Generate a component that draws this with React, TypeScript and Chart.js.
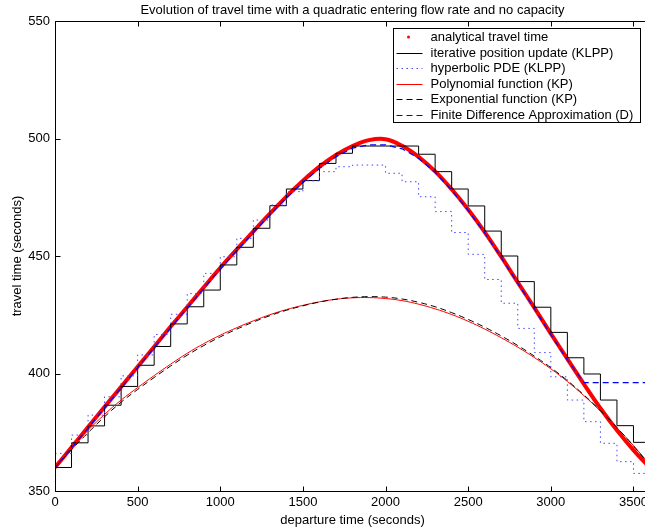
import React, { useEffect, useRef } from "react";
import { Chart, registerables } from "chart.js";

Chart.register(...registerables);

const FONT = '"Liberation Sans", Arial, Helvetica, sans-serif';
const TITLE = "Evolution of travel time with a quadratic entering flow rate and no capacity";
const X_TITLE = "departure time (seconds)";
const Y_TITLE = "travel time (seconds)";

const X_MIN = 0;
const X_MAX = 3600;
const Y_MIN = 350;
const Y_MAX = 550;
const X_TICKS = [0, 500, 1000, 1500, 2000, 2500, 3000, 3500];
const Y_TICKS = [350, 400, 450, 500, 550];

const LEGEND_LABELS = [
  "analytical travel time",
  "iterative position update (KLPP)",
  "hyperbolic PDE (KLPP)",
  "Polynomial function (KP)",
  "Exponential function (KP)",
  "Finite Difference Approximation (D)",
];

const departureTimes = [
  0, 100, 200, 300, 400, 500, 600, 700, 800, 900, 1000, 1100, 1200, 1300, 1400, 1500, 1600, 1700, 1800,
  1900, 2000, 2100, 2200, 2300, 2400, 2500, 2600, 2700, 2800, 2900, 3000, 3100, 3200, 3300, 3400, 3500, 3600,
];

const analytical = [
  360.0, 368.6, 377.2, 385.8, 394.3, 402.9, 411.4, 420.0, 428.3, 436.7, 445.0, 452.8, 460.5, 468.0, 475.3,
  482.0, 488.0, 493.0, 496.8, 499.3, 499.7, 496.9, 492.2, 486.0, 478.4, 469.8, 460.2, 449.7, 438.8, 428.0,
  417.0, 406.2, 395.5, 385.2, 375.8, 367.4, 359.8,
];

const iterativeSteps = [
  360.0, 370.5, 377.7, 386.5, 394.5, 403.5, 411.5, 421.1, 428.4, 435.5, 446.2, 453.7, 461.8, 471.4, 478.5,
  482.1, 489.4, 493.7, 496.8, 496.8, 496.8, 496.8, 493.3, 485.9, 478.5, 471.3, 460.6, 450.0, 439.1, 428.2,
  417.5, 406.7, 399.8, 388.7, 377.8, 370.7, 370.7,
];

const hyperbolicSteps = [
  366.0, 373.8, 382.3, 390.1, 399.0, 407.9, 416.6, 425.2, 434.0, 442.6, 449.7, 457.5, 465.3, 471.7, 477.4,
  482.0, 485.9, 488.0, 488.7, 488.7, 485.2, 481.6, 475.2, 468.9, 460.0, 450.7, 440.0, 429.9, 419.2, 408.9,
  398.6, 388.7, 379.5, 370.3, 362.5, 357.5, 357.5,
];

const polynomialKP = [
  360.0, 368.2, 375.8, 382.6, 388.7, 394.0, 399.1, 404.0, 408.6, 412.7, 416.3, 419.5, 422.4, 425.0, 427.2,
  429.0, 430.5, 431.6, 432.2, 432.3, 431.9, 431.0, 429.5, 427.5, 425.1, 422.2, 418.9, 415.2, 411.2, 406.8,
  402.0, 396.6, 390.6, 384.0, 376.9, 369.3, 361.2,
];

const exponentialKP = [
  360.0, 367.6, 374.8, 381.6, 387.8, 393.2, 398.3, 403.2, 407.8, 411.9, 415.6, 418.9, 421.9, 424.6, 426.9,
  428.8, 430.4, 431.6, 432.4, 432.7, 432.5, 431.7, 430.3, 428.4, 425.9, 423.0, 419.7, 416.0, 411.9, 407.4,
  402.5, 397.0, 390.9, 384.2, 377.0, 369.2, 360.8,
];

const fdTimes = [0, ...departureTimes];
const fdValues = [
  350.0, 360.0, 368.3, 376.8, 385.4, 393.9, 402.5, 411.0, 419.5, 427.9, 436.2, 444.5, 452.3, 460.0, 467.5,
  474.7, 481.3, 487.3, 492.2, 495.9, 497.3, 497.3, 495.6, 491.6, 485.6, 478.0, 469.4, 459.8, 449.3, 438.4,
  427.6, 416.6, 405.8, 396.1, 396.1, 396.1, 396.1, 396.1,
];

const pts = (xs: number[], ys: number[]) => xs.map((x, i) => ({ x, y: ys[i] }));

const decorPlugin = {
  id: "decor",
  afterDraw(chart: any) {
    const { ctx, chartArea: a, scales } = chart;
    const xs = scales.x;
    const ys = scales.y;
    ctx.save();
    ctx.strokeStyle = "#000";
    ctx.lineWidth = 1;
    ctx.setLineDash([]);
    const L = Math.round(a.left) + 0.5;
    const T = Math.round(a.top) + 0.5;
    const R = Math.round(a.right) + 0.5;
    const B = Math.round(a.bottom) + 0.5;
    ctx.beginPath();
    ctx.rect(L, T, R - L, B - T);
    for (const v of X_TICKS) {
      const px = Math.round(xs.getPixelForValue(v)) + 0.5;
      ctx.moveTo(px, B);
      ctx.lineTo(px, B - 5);
      ctx.moveTo(px, T);
      ctx.lineTo(px, T + 5);
    }
    for (const v of Y_TICKS) {
      const py = Math.round(ys.getPixelForValue(v)) + 0.5;
      ctx.moveTo(L, py);
      ctx.lineTo(L + 5, py);
      ctx.moveTo(R, py);
      ctx.lineTo(R - 5, py);
    }
    ctx.stroke();

    ctx.fillStyle = "#000";
    ctx.font = `13px ${FONT}`;
    ctx.textAlign = "center";
    ctx.textBaseline = "middle";
    const cx = (a.left + a.right) / 2;
    ctx.fillText(TITLE, cx, a.top - 11);
    ctx.fillText(X_TITLE, cx, a.bottom + 29);
    ctx.save();
    ctx.translate(17, (a.top + a.bottom) / 2);
    ctx.rotate(-Math.PI / 2);
    ctx.fillText(Y_TITLE, 0, 0);
    ctx.restore();

    // legend box
    const lx = Math.round(a.right - 257) + 0.5;
    const ly = Math.round(a.top + 7) + 0.5;
    const lw = 247;
    const lh = 94;
    ctx.fillStyle = "#fff";
    ctx.fillRect(lx, ly, lw, lh);
    ctx.strokeStyle = "#000";
    ctx.lineWidth = 1;
    ctx.strokeRect(lx, ly, lw, lh);
    const datasets = chart.data.datasets;
    ctx.textAlign = "left";
    for (let i = 0; i < LEGEND_LABELS.length; i++) {
      const ds = datasets[i];
      const rowY = ly + 8.5 + i * 15.5;
      if (i === 0) {
        ctx.fillStyle = ds.borderColor;
        ctx.beginPath();
        ctx.arc(lx + 15, rowY, 1.5, 0, Math.PI * 2);
        ctx.fill();
      } else {
        ctx.strokeStyle = ds.borderColor;
        ctx.lineWidth = ds.borderWidth;
        ctx.setLineDash(ds.borderDash || []);
        ctx.beginPath();
        ctx.moveTo(lx + 3, Math.round(rowY) + 0.5);
        ctx.lineTo(lx + 29, Math.round(rowY) + 0.5);
        ctx.stroke();
        ctx.setLineDash([]);
      }
      ctx.fillStyle = "#000";
      ctx.fillText(LEGEND_LABELS[i], lx + 37, rowY + 0.5);
    }
    ctx.restore();
  },
};

export default function App() {
  const canvasRef = useRef<HTMLCanvasElement | null>(null);

  useEffect(() => {
    const canvas = canvasRef.current;
    if (!canvas) return;
    const chart = new Chart(canvas, {
      type: "line",
      data: {
        datasets: [
          {
            label: LEGEND_LABELS[0],
            data: pts(departureTimes, analytical),
            borderColor: "#ff0000",
            borderWidth: 4,
            pointRadius: 0,
            tension: 0.4,
            fill: false,
            order: 6,
          },
          {
            label: LEGEND_LABELS[1],
            data: pts(departureTimes, iterativeSteps),
            borderColor: "#000000",
            borderWidth: 1,
            pointRadius: 0,
            stepped: "before",
            fill: false,
            order: 5,
          },
          {
            label: LEGEND_LABELS[2],
            data: pts(departureTimes, hyperbolicSteps),
            borderColor: "rgb(70,70,255)",
            borderWidth: 1,
            borderDash: [1.5, 3.5],
            pointRadius: 0,
            stepped: "before",
            fill: false,
            order: 4,
          },
          {
            label: LEGEND_LABELS[3],
            data: pts(departureTimes, polynomialKP),
            borderColor: "#ff0000",
            borderWidth: 1,
            pointRadius: 0,
            tension: 0.4,
            fill: false,
            order: 3,
          },
          {
            label: LEGEND_LABELS[4],
            data: pts(departureTimes, exponentialKP),
            borderColor: "#000000",
            borderWidth: 1,
            borderDash: [6, 4],
            pointRadius: 0,
            tension: 0.4,
            fill: false,
            order: 2,
          },
          {
            label: LEGEND_LABELS[5],
            data: pts(fdTimes, fdValues),
            borderColor: "#0000ff",
            borderWidth: 1.2,
            borderDash: [6, 4],
            pointRadius: 0,
            fill: false,
            order: 1,
          },
        ],
      },
      options: {
        responsive: false,
        animation: false,
        devicePixelRatio: 1,
        layout: { padding: { left: 0, top: 21, right: 10, bottom: 0 } },
        plugins: {
          legend: { display: false },
          title: { display: false },
          tooltip: { enabled: false },
        },
        scales: {
          x: {
            type: "linear",
            min: X_MIN,
            max: X_MAX,
            grid: { display: false, drawTicks: false },
            border: { display: false },
            ticks: {
              color: "#000",
              font: { family: FONT, size: 13 },
              padding: 4,
              maxRotation: 0,
              autoSkip: false,
              callback: (v: any) => String(v),
            },
            afterBuildTicks: (scale: any) => {
              scale.ticks = X_TICKS.map((v) => ({ value: v }));
            },
            afterFit: (scale: any) => {
              scale.height = 40;
            },
          },
          y: {
            type: "linear",
            min: Y_MIN,
            max: Y_MAX,
            grid: { display: false, drawTicks: false },
            border: { display: false },
            ticks: {
              color: "#000",
              font: { family: FONT, size: 13 },
              padding: 5,
              autoSkip: false,
              callback: (v: any) => String(v),
            },
            afterBuildTicks: (scale: any) => {
              scale.ticks = Y_TICKS.map((v) => ({ value: v }));
            },
            afterFit: (scale: any) => {
              scale.width = 55;
            },
          },
        },
      },
      plugins: [decorPlugin],
    });
    return () => chart.destroy();
  }, []);

  return (
    <div
      style={{
        position: "fixed",
        left: 0,
        top: 0,
        width: 645,
        height: 531,
        overflow: "hidden",
        background: "#fff",
      }}
    >
      <canvas ref={canvasRef} width={660} height={531} style={{ width: 660, height: 531, display: "block" }} />
    </div>
  );
}
